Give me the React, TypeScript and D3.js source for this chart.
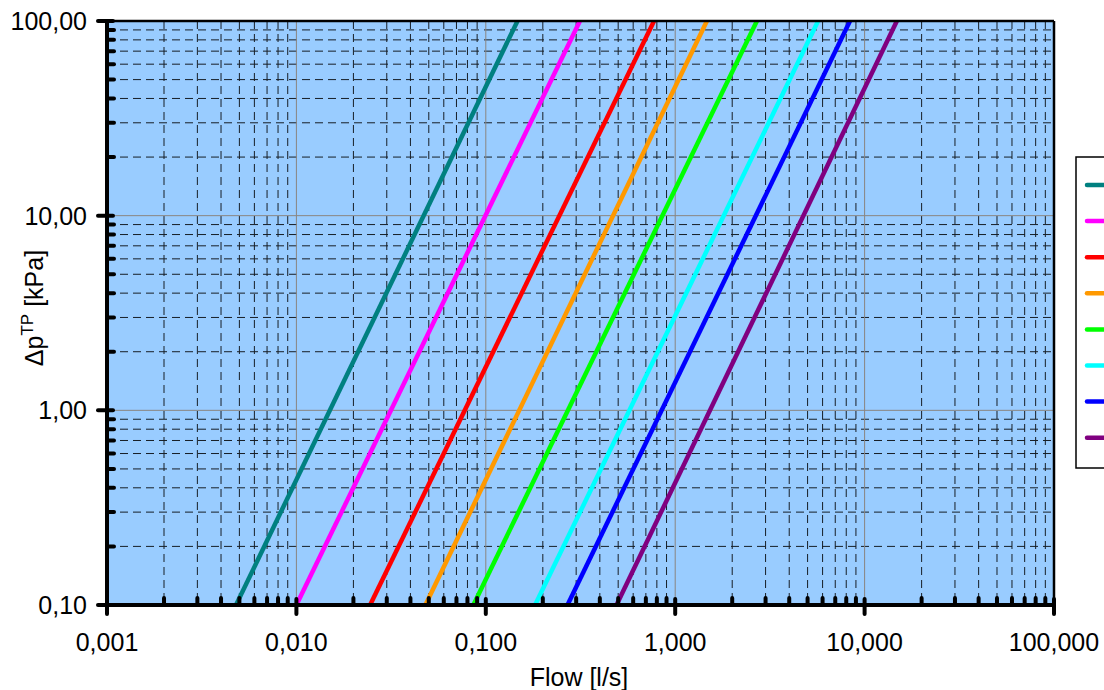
import React from "react";
import * as d3 from "d3";

var width = 1104,
  height = 690;
var left = 107,
  top = 21,
  right = 1054,
  bottom = 605;

var font = "'Liberation Sans', Arial, sans-serif";

// flow [l/s] read at 0.1 kPa and at 100 kPa for each curve
const pressureEnds = [0.1, 100];
const flowAtLow = [0.0048, 0.01, 0.0245, 0.048, 0.086, 0.182, 0.27, 0.49];
const flowAtHigh = [0.147, 0.314, 0.773, 1.47, 2.7, 5.68, 8.37, 14.8];
const seriesColors = [
  "#008080",
  "#FF00FF",
  "#FF0000",
  "#FF9900",
  "#00FF00",
  "#00FFFF",
  "#0000FF",
  "#800080"
];

const xTicks = [0.001, 0.01, 0.1, 1, 10, 100];
const xTickLabels = ["0,001", "0,010", "0,100", "1,000", "10,000", "100,000"];
const yTicks = [0.1, 1, 10, 100];
const yTickLabels = ["0,10", "1,00", "10,00", "100,00"];

const x = d3.scaleLog().domain([0.001, 100]).range([left, right]);
const y = d3.scaleLog().domain([0.1, 100]).range([bottom, top]);

function minorValues(domain: number[]) {
  var out: number[] = [];
  for (var p = Math.log10(domain[0]); p < Math.log10(domain[1]); p++) {
    for (var k = 2; k < 10; k++) out.push(k * Math.pow(10, p));
  }
  return out;
}

const xMinor = minorValues(x.domain());
const yMinor = minorValues(y.domain());

const line = d3
  .line<[number, number]>()
  .x(d => x(d[0]))
  .y(d => y(d[1]));

export default function App() {
  return (
    <div style={{ position: "absolute", left: 0, top: 0 }}>
      <svg width={width} height={height} style={{ display: "block" }}>
        <defs>
          <clipPath id="plot">
            <rect x={left} y={top} width={right - left} height={bottom - top} />
          </clipPath>
        </defs>
        <rect x={left} y={top} width={right - left} height={bottom - top} fill="#99CCFF" />

        {/* minor grid */}
        <g stroke="#000" strokeWidth={1} strokeDasharray="8,5" opacity={0.85}>
          {xMinor.map((v, i) => (
            <line key={"xm" + i} x1={x(v)} x2={x(v)} y1={top} y2={bottom} />
          ))}
          {yMinor.map((v, i) => (
            <line key={"ym" + i} x1={left} x2={right} y1={y(v)} y2={y(v)} />
          ))}
        </g>
        {/* major grid */}
        <g stroke="#8a8580" strokeWidth={1}>
          {xTicks.slice(1, -1).map((v, i) => (
            <line key={"xg" + i} x1={x(v)} x2={x(v)} y1={top} y2={bottom} />
          ))}
          {yTicks.slice(1, -1).map((v, i) => (
            <line key={"yg" + i} x1={left} x2={right} y1={y(v)} y2={y(v)} />
          ))}
        </g>

        {/* curves */}
        <g clipPath="url(#plot)" fill="none" strokeWidth={4.5}>
          {seriesColors.map((c, i) => (
            <path
              key={i}
              stroke={c}
              d={line([
                [flowAtLow[i], pressureEnds[0]],
                [flowAtHigh[i], pressureEnds[1]]
              ]) as string}
            />
          ))}
        </g>

        {/* frame */}
        <line x1={left} x2={right} y1={top} y2={top} stroke="#000" strokeWidth={2.5} />
        <line x1={right} x2={right} y1={top} y2={bottom} stroke="#000" strokeWidth={2.5} />
        <g stroke="#000" strokeWidth={4} strokeLinecap="round">
          <line x1={left} x2={left} y1={top} y2={bottom} />
          <line x1={left} x2={right} y1={bottom} y2={bottom} />
          {yMinor.map((v, i) => (
            <line key={"yt" + i} x1={left} x2={left + 7} y1={y(v)} y2={y(v)} />
          ))}
          {yTicks.map((v, i) => (
            <line key={"yT" + i} x1={left - 9} x2={left + 6} y1={y(v)} y2={y(v)} />
          ))}
          {xMinor.map((v, i) => (
            <line key={"xt" + i} x1={x(v)} x2={x(v)} y1={bottom} y2={bottom - 7} />
          ))}
          {xTicks.map((v, i) => (
            <line key={"xT" + i} x1={x(v)} x2={x(v)} y1={bottom - 6} y2={bottom + 9} />
          ))}
        </g>

        {/* tick labels */}
        <g fontFamily={font} fontSize={25} fill="#000">
          {yTicks.map((v, i) => (
            <text key={"yl" + i} x={87} y={y(v) + 9} textAnchor="end">
              {yTickLabels[i]}
            </text>
          ))}
          {xTicks.map((v, i) => (
            <text key={"xl" + i} x={x(v)} y={651} textAnchor="middle">
              {xTickLabels[i]}
            </text>
          ))}
          <text x={579} y={686} textAnchor="middle">
            Flow [l/s]
          </text>
          <text transform="translate(43,308) rotate(-90)" textAnchor="middle">
            Δp
            <tspan fontSize={17} dy={-10}>
              TP
            </tspan>
            <tspan dy={10}> [kPa]</tspan>
          </text>
        </g>

        {/* legend */}
        <rect x={1076} y={157} width={60} height={311} fill="#fff" stroke="#000" strokeWidth={1.5} />
        <g strokeWidth={4.5} strokeLinecap="round">
          {seriesColors.map((c, i) => (
            <line key={"lg" + i} x1={1087} x2={1120} y1={185 + i * 36.1} y2={185 + i * 36.1} stroke={c} />
          ))}
        </g>
      </svg>
    </div>
  );
}
